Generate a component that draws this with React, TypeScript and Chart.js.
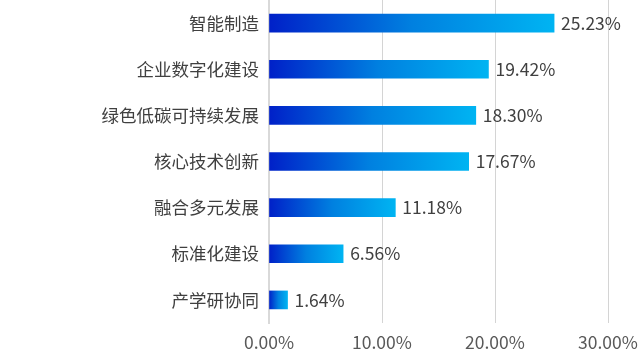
import React, { useEffect, useRef } from "react";
import { Chart, registerables } from "chart.js";

Chart.register(...registerables);

const categories = ["智能制造", "企业数字化建设", "绿色低碳可持续发展", "核心技术创新", "融合多元发展", "标准化建设", "产学研协同"];
const values = [25.23, 19.42, 18.3, 17.67, 11.18, 6.56, 1.64];
const xTicks = [0, 10, 20, 30];

const FONT = '"Noto Sans CJK SC", "Microsoft YaHei", sans-serif';
const FS = 17.5;

const labelPlugin = {
  id: "barLabels",
  afterDatasetsDraw(chart: any) {
    const ctx = chart.ctx;
    const meta = chart.getDatasetMeta(0);
    ctx.save();
    ctx.font = `${FS}px ${FONT}`;
    ctx.fillStyle = "#404040";
    ctx.textAlign = "left";
    ctx.textBaseline = "middle";
    meta.data.forEach((el: any, i: number) => {
      ctx.fillText(values[i].toFixed(2) + "%", el.x + 7, el.y);
    });
    ctx.restore();
  },
};

export default function App() {
  const ref = useRef<HTMLCanvasElement>(null);
  useEffect(() => {
    if (!ref.current) return;
    const chart = new Chart(ref.current, {
      type: "bar",
      data: {
        labels: categories,
        datasets: [
          {
            data: values,
            barThickness: 18,
            backgroundColor: (c: any) => {
              const ch = c.chart;
              const xs = ch.scales?.x;
              if (!xs || c.dataIndex === undefined || !isFinite(xs.getPixelForValue(0))) return "#0070e0";
              const x0 = xs.getPixelForValue(0);
              const x1 = xs.getPixelForValue(values[c.dataIndex]);
              if (!isFinite(x1) || x1 - x0 < 1) return "#0070e0";
              const g = ch.ctx.createLinearGradient(x0, 0, x1, 0);
              g.addColorStop(0, "#0020c8");
              g.addColorStop(0.5, "#0080e0");
              g.addColorStop(1, "#00b4f2");
              return g;
            },
          },
        ],
      },
      options: {
        indexAxis: "y",
        responsive: false,
        animation: false,
        layout: { padding: { top: 0, right: 32, left: 0, bottom: 0 } },
        plugins: { legend: { display: false }, tooltip: { enabled: false } },
        scales: {
          x: {
            min: 0,
            max: 30,
            afterBuildTicks: (s: any) => {
              s.ticks = xTicks.map((v) => ({ value: v }));
            },
            afterFit: (s: any) => {
              s.height = 38;
              s.paddingLeft = 0;
              s.paddingRight = 0;
            },
            grid: { color: "#d4d4d4", lineWidth: 1, drawTicks: false },
            border: { display: false },
            ticks: {
              padding: 9,
              color: "#595959",
              font: { family: FONT, size: FS },
              callback: (v: any) => Number(v).toFixed(2) + "%",
            },
          },
          y: {
            afterFit: (s: any) => {
              s.width = 269;
              s.paddingTop = 0;
              s.paddingBottom = 0;
            },
            grid: { display: false, drawTicks: false },
            border: { display: true, color: "#d9d9d9", width: 2 },
            ticks: {
              padding: 10,
              color: "#404040",
              font: { family: FONT, size: FS },
            },
          },
        },
      },
      plugins: [labelPlugin],
    });
    return () => chart.destroy();
  }, []);
  return (
    <div style={{ position: "absolute", left: 0, top: 0, width: 640, height: 361, background: "#fff" }}>
      <canvas ref={ref} width={640} height={361} style={{ width: 640, height: 361 }} />
    </div>
  );
}
